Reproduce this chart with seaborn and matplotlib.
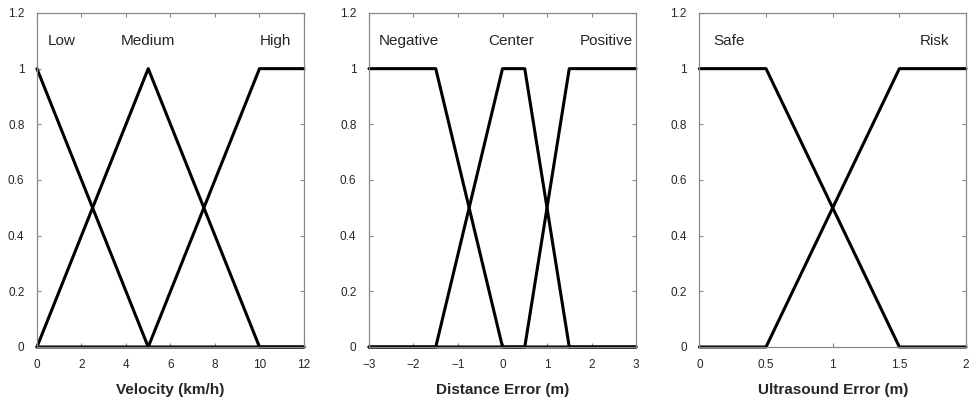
import matplotlib
matplotlib.use("Agg")
import matplotlib.pyplot as plt
from matplotlib.ticker import FuncFormatter
import pandas as pd
import seaborn as sns

# membership functions, breakpoints
vel_low_x = [0, 5, 12]
vel_low_y = [1, 0, 0]
vel_med_x = [0, 5, 10, 12]
vel_med_y = [0, 1, 0, 0]
vel_high_x = [0, 5, 10, 12]
vel_high_y = [0, 0, 1, 1]

dist_neg_x = [-3, -1.5, 0, 3]
dist_neg_y = [1, 1, 0, 0]
dist_cen_x = [-3, -1.5, 0, 0.5, 1.5, 3]
dist_cen_y = [0, 0, 1, 1, 0, 0]
dist_pos_x = [-3, 0.5, 1.5, 3]
dist_pos_y = [0, 0, 1, 1]

us_safe_x = [0, 0.5, 1.5, 2]
us_safe_y = [1, 1, 0, 0]
us_risk_x = [0, 0.5, 1.5, 2]
us_risk_y = [0, 0, 1, 1]

vel_labels = ["Low", "Medium", "High"]
vel_label_x = [1.1, 5.0, 10.7]
dist_labels = ["Negative", "Center", "Positive"]
dist_label_x = [-2.1, 0.2, 2.33]
us_labels = ["Safe", "Risk"]
us_label_x = [0.22, 1.76]

y_ticks = [0, 0.2, 0.4, 0.6, 0.8, 1.0, 1.2]


def fmt(v, pos):
    return "{:g}".format(v).replace("-", "\u2212")


def panel(ax, series, xlim, xticks, xlabel, labels, label_x):
    for xs, ys in series:
        df = pd.DataFrame({"x": xs, "y": ys})
        sns.lineplot(data=df, x="x", y="y", ax=ax, color="black", lw=2.2,
                     sort=False, estimator=None, clip_on=False)
    for name, lx in zip(labels, label_x):
        ax.text(lx, 1.1, name, ha="center", va="center", fontsize=11)
    ax.set_xlim(*xlim)
    ax.set_ylim(0, 1.2)
    ax.set_xticks(xticks)
    ax.set_yticks(y_ticks)
    ax.xaxis.set_major_formatter(FuncFormatter(fmt))
    ax.yaxis.set_major_formatter(FuncFormatter(fmt))
    ax.set_xlabel(xlabel, fontsize=11, fontweight="bold", labelpad=8)
    ax.set_ylabel("")
    ax.tick_params(direction="in", length=3, width=0.8, color="#888888",
                   labelsize=8.5, pad=9, top=True, right=True)
    for sp in ax.spines.values():
        sp.set_visible(True)
        sp.set_color("#888888")
        sp.set_linewidth(0.9)


sns.set_style("ticks")
plt.rcParams["font.family"] = ["Liberation Sans", "DejaVu Sans"]

fig = plt.figure(figsize=(9.7, 4.03), dpi=100)
ax1 = fig.add_axes([0.0381, 0.139, 0.2753, 0.8288])
ax2 = fig.add_axes([0.3804, 0.139, 0.2753, 0.8288])
ax3 = fig.add_axes([0.7210, 0.139, 0.2749, 0.8288])

panel(ax1, [(vel_low_x, vel_low_y), (vel_med_x, vel_med_y), (vel_high_x, vel_high_y)],
      (0, 12), [0, 2, 4, 6, 8, 10, 12], "Velocity (km/h)", vel_labels, vel_label_x)
panel(ax2, [(dist_neg_x, dist_neg_y), (dist_cen_x, dist_cen_y), (dist_pos_x, dist_pos_y)],
      (-3, 3), [-3, -2, -1, 0, 1, 2, 3], "Distance Error (m)", dist_labels, dist_label_x)
panel(ax3, [(us_safe_x, us_safe_y), (us_risk_x, us_risk_y)],
      (0, 2), [0, 0.5, 1, 1.5, 2], "Ultrasound Error (m)", us_labels, us_label_x)

fig.savefig("out.png", dpi=100)
